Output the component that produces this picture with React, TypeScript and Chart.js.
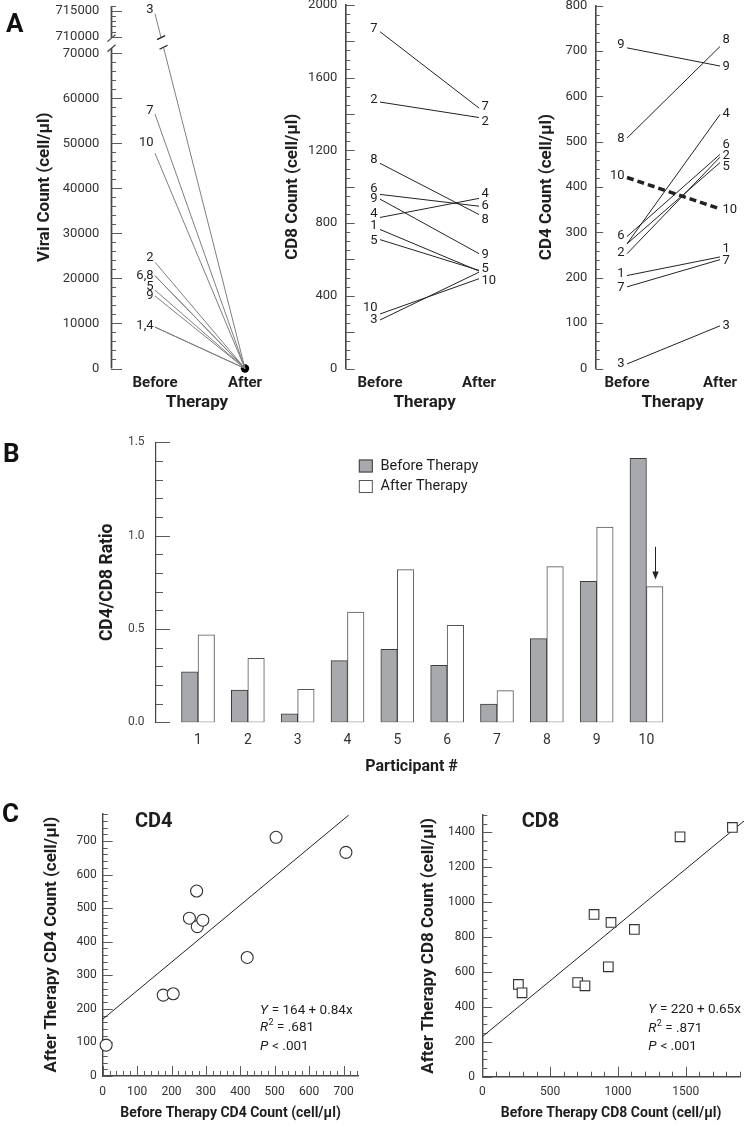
import React, { useEffect, useRef } from 'react';
import { Chart, registerables } from 'chart.js';

Chart.register(...registerables);

const FONT = 'Roboto, "Noto Sans", "DejaVu Sans", sans-serif';
const INK = '#1e1e1e';
const AXIS = '#444444';
const TICKMARK = '#5a5a5a';
const TICKTXT = '#333333';

// ---------------- data ----------------
const participants = [1, 2, 3, 4, 5, 6, 7, 8, 9, 10];
const therapyLabels = ['Before', 'After'];

// Panel A – viral count (participants 1..10)
const viralBefore = [9200, 23600, 714500, 9200, 17400, 20600, 56500, 20600, 16100, 47800];
const viralAfter = [0, 0, 0, 0, 0, 0, 0, 0, 0, 0];
const viralTickValues = [0, 10000, 20000, 30000, 40000, 50000, 60000, 70000, 710000, 715000];
const viralBeforeLabelText = ['3', '7', '10', '2', '6,8', '5', '9', '1,4'];
const viralBeforeLabelValue = [715300, 57200, 50200, 24700, 20600, 18200, 16100, 9600];

// Panel A – CD8 count
const cd8Before = [765, 1466, 267, 831, 709, 958, 1853, 1129, 932, 300];
const cd8After = [536, 1381, 530, 936, 540, 893, 1433, 847, 632, 494];
const cd8TickValues = [0, 200, 400, 600, 800, 1000, 1200, 1400, 1600, 1800, 2000];
const cd8BeforeLabelText = ['7', '2', '8', '6', '9', '4', '1', '5', '10', '3'];
const cd8BeforeLabelValue = [1870, 1479, 1147, 987, 936, 853, 783, 705, 337, 267];
const cd8AfterLabelText = ['7', '2', '4', '6', '8', '9', '5', '10'];
const cd8AfterLabelValue = [1442, 1359, 963, 893, 816, 628, 549, 481];

// Panel A – CD4 count
const cd4Before = [205, 253, 10, 275, 275, 291, 180, 508, 707, 421];
const cd4After = [246, 466, 94, 560, 454, 472, 240, 710, 667, 352];
const cd4TickValues = [0, 100, 200, 300, 400, 500, 600, 700, 800];
const cd4BeforeLabelText = ['9', '8', '10', '6', '2', '1', '7', '3'];
const cd4BeforeLabelValue = [713, 507, 424, 293, 255, 210, 178, 11];
const cd4AfterLabelText = ['8', '9', '4', '6', '2', '5', '10', '1', '7', '3'];
const cd4AfterLabelValue = [724, 665, 562, 494, 470, 444, 351, 264, 238, 94];
const cd4DashedParticipant = 10;

// Panel B – CD4/CD8 ratio
const ratioBefore = [0.27, 0.173, 0.046, 0.33, 0.391, 0.305, 0.098, 0.448, 0.755, 1.414];
const ratioAfter = [0.468, 0.343, 0.177, 0.591, 0.818, 0.52, 0.17, 0.834, 1.046, 0.727];
const ratioTickValues = [0, 0.5, 1.0, 1.5];
const arrowParticipant = 10;
const arrowFrom = 0.94;
const arrowTo = 0.765;

// Panel C – scatter
const cd4ScatterBefore = [10, 176, 205, 252, 273, 275, 291, 420, 504, 707];
const cd4ScatterAfter = [92, 241, 245, 470, 551, 445, 464, 353, 711, 666];
const cd4FitX = [0, 715];
const cd4FitY = [169, 777];
const cd4ScatterTicks = [0, 100, 200, 300, 400, 500, 600, 700];

const cd8ScatterBefore = [266, 293, 703, 757, 824, 949, 929, 1121, 1458, 1844];
const cd8ScatterAfter = [529, 481, 540, 521, 930, 884, 630, 844, 1375, 1429];
const cd8FitX = [0, 1930];
const cd8FitY = [229, 1466];
const cd8ScatterYTicks = [0, 200, 400, 600, 800, 1000, 1200, 1400];
const cd8ScatterXTicks = [0, 500, 1000, 1500];

// ---------------- broken viral axis mapping ----------------
const BREAK_LOW = 70000;
const BREAK_HIGH = 710000;
const BREAK_GAP = 3700;
const UPPER_SCALE = 1.13;
const VIRAL_MAX = 80500;
const vmap = (v: number) => (v <= BREAK_LOW ? v : BREAK_LOW + BREAK_GAP + (v - BREAK_HIGH) * UPPER_SCALE);
const idmap = (v: number) => v;

// ---------------- layout helpers ----------------
type Frame = { cx: number; cy: number; cw: number; ch: number; left: number; top: number; right: number; bottom: number };
type TickRange = { from: number; to: number; minor: number; major: number };

const layoutOf = (f: Frame) => ({
  padding: { left: 0, top: f.top - f.cy, right: f.cx + f.cw - f.right, bottom: 0 },
});
const zeroPad = (s: any) => {
  s.paddingLeft = 0;
  s.paddingRight = 0;
  s.paddingTop = 0;
  s.paddingBottom = 0;
};
const fixWidth = (w: number) => (s: any) => {
  s.width = w;
  zeroPad(s);
};
const fixHeight = (h: number) => (s: any) => {
  s.height = h;
  zeroPad(s);
};
const bold = (size: number) => ({ family: FONT, size, weight: 'bold' as const });
const plain = (size: number) => ({ family: FONT, size, weight: 'normal' as const });
const noGrid = { display: false, drawTicks: false, tickLength: 0 };

const yTitle = (text: string, size: number, centerX: number, f: Frame) => ({
  display: true,
  text,
  color: INK,
  font: bold(size),
  padding: { top: centerX - f.cx - (size * 1.2) / 2, bottom: 0 },
});
const xTitle = (text: string, size: number, centerY: number, f: Frame) => ({
  display: true,
  text,
  color: INK,
  font: bold(size),
  padding: { top: 0, bottom: f.cy + f.ch - (size * 1.2) / 2 - centerY },
});

const baseOptions = (f: Frame, scales: any) => ({
  animation: false,
  responsive: false,
  maintainAspectRatio: false,
  events: [],
  layout: layoutOf(f),
  plugins: { legend: { display: false }, tooltip: { enabled: false }, title: { display: false } },
  scales,
});

function tickMarks(id: string, axis: 'x' | 'y', ranges: TickRange[], majorLen: number, minorLen: number, map: (v: number) => number = idmap) {
  return {
    id,
    beforeDatasetsDraw(chart: any) {
      const sc = chart.scales[axis];
      const a = chart.chartArea;
      const ctx = chart.ctx;
      ctx.save();
      ctx.strokeStyle = TICKMARK;
      ctx.lineWidth = 1;
      ctx.beginPath();
      for (const r of ranges) {
        const n = Math.round((r.to - r.from) / r.minor);
        for (let i = 0; i <= n; i++) {
          const v = r.from + i * r.minor;
          const q = v / r.major;
          const len = Math.abs(q - Math.round(q)) < 1e-6 ? majorLen : minorLen;
          const p = Math.round(sc.getPixelForValue(map(v))) + 0.5;
          if (axis === 'x') {
            ctx.moveTo(p, a.bottom);
            ctx.lineTo(p, a.bottom - len);
          } else {
            ctx.moveTo(a.left, p);
            ctx.lineTo(a.left + len, p);
          }
        }
      }
      ctx.stroke();
      ctx.restore();
    },
  };
}

function pairLabels(bt: string[], bv: number[], at: string[], av: number[], map: (v: number) => number, gapB: number, gapA: number) {
  return {
    id: 'pairLabels',
    afterDatasetsDraw(chart: any) {
      const { ctx } = chart;
      const xs = chart.scales.x;
      const ys = chart.scales.y;
      ctx.save();
      ctx.font = `13px ${FONT}`;
      ctx.fillStyle = INK;
      ctx.textBaseline = 'middle';
      ctx.textAlign = 'right';
      bt.forEach((t, i) => ctx.fillText(t, xs.getPixelForValue(0) - gapB, ys.getPixelForValue(map(bv[i]))));
      ctx.textAlign = 'left';
      at.forEach((t, i) => ctx.fillText(t, xs.getPixelForValue(1) + gapA, ys.getPixelForValue(map(av[i]))));
      ctx.restore();
    },
  };
}

const lineDataset = (id: number, b: number, a: number, color: string, width: number, dash: number[]) => ({
  label: 'Participant ' + id,
  data: [
    { x: 0, y: b },
    { x: 1, y: a },
  ],
  borderColor: color,
  borderWidth: width,
  borderDash: dash,
  pointRadius: 0,
  fill: false,
  tension: 0,
});

const pairX = (f: Frame, xb: number, xa: number) => ({
  type: 'linear',
  min: (f.left - xb) / (xa - xb),
  max: (f.right - xb) / (xa - xb),
  offset: false,
  grid: noGrid,
  border: { display: false },
  afterBuildTicks: (s: any) => {
    s.ticks = therapyLabels.map((_, i) => ({ value: i }));
  },
  ticks: {
    callback: (_v: any, i: number) => therapyLabels[i],
    font: bold(15),
    color: INK,
    padding: 5.5,
    autoSkip: false,
    maxRotation: 0,
  },
  title: xTitle('Therapy', 17, 403, f),
  afterFit: fixHeight(f.cy + f.ch - f.bottom),
});

// ---------------- frames ----------------
const viralFrame: Frame = { cx: 0, cy: 0, cw: 300, ch: 420, left: 111, top: 6, right: 283, bottom: 368.5 };
const cd8Frame: Frame = { cx: 260, cy: 0, cw: 260, ch: 420, left: 345.7, top: 5, right: 503.5, bottom: 368.5 };
const cd4Frame: Frame = { cx: 510, cy: 0, cw: 240, ch: 420, left: 595.7, top: 5.7, right: 749.5, bottom: 368.5 };
const ratioFrame: Frame = { cx: 0, cy: 420, cw: 750, ch: 380, left: 156, top: 442.3, right: 667, bottom: 722.3 };
const sc4Frame: Frame = { cx: 0, cy: 790, cw: 375, ch: 336, left: 102.7, top: 813.3, right: 358.3, bottom: 1076 };
const sc8Frame: Frame = { cx: 375, cy: 790, cw: 375, ch: 336, left: 482.3, top: 815, right: 740, bottom: 1076.7 };

// ---------------- chart builders ----------------
function buildViral(f: Frame) {
  const brokenIndex = participants.indexOf(3);
  const breakPlugin = {
    id: 'brokenAxis',
    beforeDatasetsDraw(chart: any) {
      const { ctx, chartArea: a } = chart;
      const ys = chart.scales.y;
      const x = Math.round(a.left) + 0.5;
      const yHi = ys.getPixelForValue(vmap(BREAK_HIGH)) + 1.5;
      const yLo = ys.getPixelForValue(BREAK_LOW) - 5;
      ctx.save();
      ctx.strokeStyle = AXIS;
      ctx.lineWidth = 1.7;
      ctx.beginPath();
      ctx.moveTo(x, a.top);
      ctx.lineTo(x, yHi);
      ctx.moveTo(x, yLo);
      ctx.lineTo(x, a.bottom);
      ctx.stroke();
      ctx.lineWidth = 1.3;
      [yHi, yLo].forEach((yy) => {
        ctx.beginPath();
        ctx.moveTo(x - 4, yy + 3.5);
        ctx.lineTo(x + 4, yy - 3.5);
        ctx.stroke();
      });
      ctx.restore();
    },
    afterDatasetsDraw(chart: any) {
      const { ctx } = chart;
      const ys = chart.scales.y;
      const pts = chart.getDatasetMeta(brokenIndex).data;
      const p0 = pts[0];
      const p1 = pts[1];
      const yA = ys.getPixelForValue(vmap(BREAK_HIGH)) + 1;
      const yB = ys.getPixelForValue(BREAK_LOW) - 6;
      const xAt = (yy: number) => p0.x + ((yy - p0.y) / (p1.y - p0.y)) * (p1.x - p0.x);
      ctx.save();
      ctx.strokeStyle = '#ffffff';
      ctx.lineWidth = 4;
      ctx.beginPath();
      ctx.moveTo(xAt(yA), yA);
      ctx.lineTo(xAt(yB), yB);
      ctx.stroke();
      ctx.strokeStyle = '#222';
      ctx.lineWidth = 1.3;
      [yA, yB].forEach((yy) => {
        const xx = xAt(yy);
        ctx.beginPath();
        ctx.moveTo(xx - 4, yy + 2);
        ctx.lineTo(xx + 4, yy - 2);
        ctx.stroke();
      });
      ctx.restore();
    },
  };
  return {
    type: 'line',
    data: {
      datasets: [
        ...participants.map((id, i) => lineDataset(id, vmap(viralBefore[i]), vmap(viralAfter[i]), '#7f7f7f', 1, [])),
        {
          label: 'After',
          data: [{ x: 1, y: vmap(viralAfter[0]) }],
          showLine: false,
          pointRadius: 4.2,
          pointBackgroundColor: '#000',
          pointBorderColor: '#000',
          pointBorderWidth: 0,
          clip: false,
        },
      ],
    },
    options: baseOptions(f, {
      x: pairX(f, 155, 245),
      y: {
        type: 'linear',
        min: 0,
        max: VIRAL_MAX,
        grid: noGrid,
        border: { display: false },
        afterBuildTicks: (s: any) => {
          s.ticks = viralTickValues.map((v) => ({ value: vmap(v) }));
        },
        ticks: {
          callback: (_v: any, i: number) => String(viralTickValues[i]),
          font: plain(13),
          color: TICKTXT,
          padding: 11.7,
          autoSkip: false,
        },
        title: yTitle('Viral Count (cell/μl)', 17, 45, f),
        afterFit: fixWidth(f.left - f.cx),
      },
    }),
    plugins: [
      breakPlugin,
      tickMarks('viralTicks', 'y', [
        { from: 0, to: 70000, minor: 2000, major: 10000 },
        { from: 710000, to: 716000, minor: 1000, major: 5000 },
      ], 11, 5, vmap),
      pairLabels(viralBeforeLabelText, viralBeforeLabelValue, [], [], vmap, 1.5, 2),
    ],
  };
}

function buildPaired(
  f: Frame,
  before: number[],
  after: number[],
  yMax: number,
  yTicks: number[],
  labelEvery: number,
  title: string,
  titleX: number,
  xb: number,
  xa: number,
  ranges: TickRange[],
  majorLen: number,
  minorLen: number,
  bt: string[],
  bv: number[],
  at: string[],
  av: number[],
  dashed: number,
) {
  return {
    type: 'line',
    data: {
      datasets: participants.map((id, i) =>
        lineDataset(id, before[i], after[i], '#222', id === dashed ? 3.6 : 1, id === dashed ? [7, 4] : []),
      ),
    },
    options: baseOptions(f, {
      x: pairX(f, xb, xa),
      y: {
        type: 'linear',
        min: 0,
        max: yMax,
        grid: noGrid,
        border: { display: true, color: AXIS, width: 1.6 },
        afterBuildTicks: (s: any) => {
          s.ticks = yTicks.map((v) => ({ value: v }));
        },
        ticks: {
          callback: (_v: any, i: number) => (yTicks[i] % labelEvery === 0 ? String(yTicks[i]) : ''),
          font: plain(13),
          color: TICKTXT,
          padding: 8.4,
          autoSkip: false,
        },
        title: yTitle(title, 17, titleX, f),
        afterFit: fixWidth(f.left - f.cx),
      },
    }),
    plugins: [
      tickMarks('pairTicks', 'y', ranges, majorLen, minorLen),
      pairLabels(bt, bv, at, av, idmap, 2.5, 2.5),
    ],
  };
}

function buildRatio(f: Frame) {
  const xc1 = 198;
  const step = 49.83;
  const legendPlugin = {
    id: 'ratioLegend',
    afterDraw(chart: any) {
      const { ctx, chartArea: a } = chart;
      ctx.save();
      chart.data.datasets.forEach((ds: any, i: number) => {
        const bx = a.left + 202.8;
        const by = a.top + 17.2 + i * 20.5;
        ctx.fillStyle = ds.backgroundColor;
        ctx.fillRect(bx, by, 14, 13);
        ctx.strokeStyle = ds.borderColor;
        ctx.lineWidth = 1;
        ctx.strokeRect(bx + 0.5, by + 0.5, 13, 12);
        ctx.fillStyle = INK;
        ctx.font = `14.5px ${FONT}`;
        ctx.textBaseline = 'middle';
        ctx.textAlign = 'left';
        ctx.fillText(ds.label, a.left + 224.5, by + 6.5);
      });
      ctx.restore();
    },
  };
  const arrowPlugin = {
    id: 'ratioArrow',
    afterDatasetsDraw(chart: any) {
      const { ctx } = chart;
      const ys = chart.scales.y;
      const bar = chart.getDatasetMeta(1).data[participants.indexOf(arrowParticipant)];
      const x = Math.round(bar.x) + 0.5;
      const y0 = ys.getPixelForValue(arrowFrom);
      const y1 = ys.getPixelForValue(arrowTo);
      ctx.save();
      ctx.strokeStyle = '#222';
      ctx.fillStyle = '#222';
      ctx.lineWidth = 1;
      ctx.beginPath();
      ctx.moveTo(x, y0);
      ctx.lineTo(x, y1 - 6);
      ctx.stroke();
      ctx.beginPath();
      ctx.moveTo(x - 3.2, y1 - 8);
      ctx.lineTo(x + 3.2, y1 - 8);
      ctx.lineTo(x, y1);
      ctx.closePath();
      ctx.fill();
      ctx.restore();
    },
  };
  return {
    type: 'bar',
    data: {
      datasets: [
        {
          label: 'Before Therapy',
          data: participants.map((id, i) => ({ x: id, y: ratioBefore[i] })),
          backgroundColor: '#a7a9ac',
          borderColor: '#3c3c3c',
          borderWidth: 1,
          borderSkipped: false,
          barThickness: 16.5,
        },
        {
          label: 'After Therapy',
          data: participants.map((id, i) => ({ x: id, y: ratioAfter[i] })),
          backgroundColor: '#ffffff',
          borderColor: '#555555',
          borderWidth: 1,
          borderSkipped: false,
          barThickness: 16.5,
        },
      ],
    },
    options: baseOptions(f, {
      x: {
        type: 'linear',
        offset: false,
        min: 1 - (xc1 - f.left) / step,
        max: 1 + (f.right - xc1) / step,
        grid: noGrid,
        border: { display: false },
        afterBuildTicks: (s: any) => {
          s.ticks = participants.map((v) => ({ value: v }));
        },
        ticks: {
          callback: (_v: any, i: number) => String(participants[i]),
          font: plain(14),
          color: TICKTXT,
          padding: 9.3,
          autoSkip: false,
          maxRotation: 0,
        },
        title: xTitle('Participant #', 16, 766.7, f),
        afterFit: fixHeight(f.cy + f.ch - f.bottom),
      },
      y: {
        type: 'linear',
        min: 0,
        max: 1.5,
        grid: noGrid,
        border: { display: true, color: AXIS, width: 1.2 },
        afterBuildTicks: (s: any) => {
          s.ticks = ratioTickValues.map((v) => ({ value: v }));
        },
        ticks: {
          callback: (_v: any, i: number) => ratioTickValues[i].toFixed(1),
          font: plain(12),
          color: '#444',
          padding: 11.4,
          autoSkip: false,
        },
        title: yTitle('CD4/CD8 Ratio', 17.5, 107.4, f),
        afterFit: fixWidth(f.left - f.cx),
      },
    }),
    plugins: [tickMarks('ratioTicks', 'y', [{ from: 0, to: 1.5, minor: 0.1, major: 0.5 }], 14, 7), legendPlugin, arrowPlugin],
  };
}

type Seg = { t: string; it?: boolean; sup?: boolean };
function statsText(heading: string, headDx: number, headDy: number, lines: Seg[][], dx: number, dys: number[]) {
  return {
    id: 'statsText',
    afterDatasetsDraw(chart: any) {
      const { ctx, chartArea: a } = chart;
      ctx.save();
      ctx.fillStyle = INK;
      ctx.textBaseline = 'middle';
      ctx.textAlign = 'left';
      ctx.font = `bold 20px ${FONT}`;
      ctx.fillText(heading, a.left + headDx, a.top + headDy);
      lines.forEach((segs, li) => {
        let x = a.left + dx;
        const y = a.bottom + dys[li];
        segs.forEach((s) => {
          ctx.font = `${s.it ? 'italic ' : ''}${s.sup ? 9 : 13.5}px ${FONT}`;
          ctx.fillText(s.t, x, s.sup ? y - 5 : y);
          x += ctx.measureText(s.t).width + (s.it ? 0.5 : 0);
        });
      });
      ctx.restore();
    },
  };
}

function buildScatter(
  f: Frame,
  xs: number[],
  ys: number[],
  fitX: number[],
  fitY: number[],
  xMax: number,
  yMax: number,
  xTicks: number[],
  yTicks: number[],
  xRange: TickRange,
  yRange: TickRange,
  pointStyle: string,
  pointRadius: number,
  yTitleText: string,
  xTitleText: string,
  yTitleX: number,
  xTickPad: number,
  yTickPad: number,
  stats: any,
) {
  return {
    type: 'scatter',
    data: {
      datasets: [
        {
          label: 'Participants',
          data: xs.map((x, i) => ({ x, y: ys[i] })),
          pointStyle,
          pointRadius,
          pointBackgroundColor: '#ffffff',
          pointBorderColor: '#333333',
          pointBorderWidth: 1.1,
          showLine: false,
          clip: false,
        },
        {
          label: 'Fit',
          data: fitX.map((x, i) => ({ x, y: fitY[i] })),
          showLine: true,
          pointRadius: 0,
          borderColor: '#222',
          borderWidth: 1,
          clip: false,
        },
      ],
    },
    options: baseOptions(f, {
      x: {
        type: 'linear',
        min: 0,
        max: xMax,
        grid: noGrid,
        border: { display: true, color: AXIS, width: 1.4 },
        afterBuildTicks: (s: any) => {
          s.ticks = xTicks.map((v) => ({ value: v }));
        },
        ticks: {
          callback: (_v: any, i: number) => String(xTicks[i]),
          font: plain(12),
          color: TICKTXT,
          padding: xTickPad,
          autoSkip: false,
          maxRotation: 0,
        },
        title: xTitle(xTitleText, 14, 1113, f),
        afterFit: fixHeight(f.cy + f.ch - f.bottom),
      },
      y: {
        type: 'linear',
        min: 0,
        max: yMax,
        grid: noGrid,
        border: { display: true, color: AXIS, width: 1.4 },
        afterBuildTicks: (s: any) => {
          s.ticks = yTicks.map((v) => ({ value: v }));
        },
        ticks: {
          callback: (_v: any, i: number) => String(yTicks[i]),
          font: plain(12),
          color: TICKTXT,
          padding: yTickPad,
          autoSkip: false,
        },
        title: yTitle(yTitleText, 17, yTitleX, f),
        afterFit: fixWidth(f.left - f.cx),
      },
    }),
    plugins: [tickMarks('scX', 'x', [xRange], 10, 5), tickMarks('scY', 'y', [yRange], 10, 5), stats],
  };
}

// ---------------- components ----------------
function ChartBox({ frame, build }: { frame: Frame; build: (f: Frame) => any }) {
  const ref = useRef<HTMLCanvasElement | null>(null);
  useEffect(() => {
    const chart = new Chart(ref.current as HTMLCanvasElement, build(frame));
    return () => chart.destroy();
  }, []);
  return (
    <canvas
      ref={ref}
      width={frame.cw}
      height={frame.ch}
      style={{ position: 'absolute', left: frame.cx, top: frame.cy, width: frame.cw, height: frame.ch }}
    />
  );
}

const letterStyle = (left: number, top: number): React.CSSProperties => ({
  position: 'absolute',
  left,
  top,
  font: `bold 26px ${FONT}`,
  lineHeight: '26px',
  color: '#111',
});

export default function App() {
  return (
    <div style={{ position: 'absolute', left: 0, top: 0, width: 750, height: 1126, background: '#fff', overflow: 'hidden' }}>
      <ChartBox frame={viralFrame} build={buildViral} />
      <ChartBox
        frame={cd8Frame}
        build={(f) =>
          buildPaired(f, cd8Before, cd8After, 2000, cd8TickValues, 400, 'CD8 Count (cell/μl)', 292.3, 380, 479,
            [{ from: 0, to: 2000, minor: 50, major: 200 }], 9, 4.5,
            cd8BeforeLabelText, cd8BeforeLabelValue, cd8AfterLabelText, cd8AfterLabelValue, -1)
        }
      />
      <ChartBox
        frame={cd4Frame}
        build={(f) =>
          buildPaired(f, cd4Before, cd4After, 800, cd4TickValues, 100, 'CD4 Count (cell/μl)', 546.7, 627, 720,
            [{ from: 0, to: 800, minor: 20, major: 100 }], 7.5, 4,
            cd4BeforeLabelText, cd4BeforeLabelValue, cd4AfterLabelText, cd4AfterLabelValue, cd4DashedParticipant)
        }
      />
      <ChartBox frame={ratioFrame} build={buildRatio} />
      <ChartBox
        frame={sc4Frame}
        build={(f) =>
          buildScatter(f, cd4ScatterBefore, cd4ScatterAfter, cd4FitX, cd4FitY, 743, 782.5, cd4ScatterTicks, cd4ScatterTicks,
            { from: 0, to: 740, minor: 20, major: 100 }, { from: 0, to: 780, minor: 20, major: 100 },
            'circle', 6, 'After Therapy CD4 Count (cell/μl)', 'Before Therapy CD4 Count (cell/μl)', 51.7, 9.1, 6,
            statsText('CD4', 32.3, 8.4, [
              [{ t: 'Y', it: true }, { t: ' = 164 + 0.84x' }],
              [{ t: 'R', it: true }, { t: '2', sup: true }, { t: ' = .681' }],
              [{ t: 'P', it: true }, { t: ' < .001' }],
            ], 157.3, [-65.3, -48, -29.3]))
        }
      />
      <ChartBox
        frame={sc8Frame}
        build={(f) =>
          buildScatter(f, cd8ScatterBefore, cd8ScatterAfter, cd8FitX, cd8FitY, 1900, 1500, cd8ScatterXTicks, cd8ScatterYTicks,
            { from: 0, to: 1900, minor: 100, major: 500 }, { from: 0, to: 1500, minor: 50, major: 200 },
            'rect', 6.8, 'After Therapy CD8 Count (cell/μl)', 'Before Therapy CD8 Count (cell/μl)', 428.3, 8.4, 7.3,
            statsText('CD8', 39.4, 6.7, [
              [{ t: 'Y', it: true }, { t: ' = 220 + 0.65x' }],
              [{ t: 'R', it: true }, { t: '2', sup: true }, { t: ' = .871' }],
              [{ t: 'P', it: true }, { t: ' < .001' }],
            ], 166, [-66.7, -48, -30]))
        }
      />
      <div style={letterStyle(6, 9.9)}>A</div>
      <div style={letterStyle(3, 439.9)}>B</div>
      <div style={letterStyle(2, 799.9)}>C</div>
    </div>
  );
}
